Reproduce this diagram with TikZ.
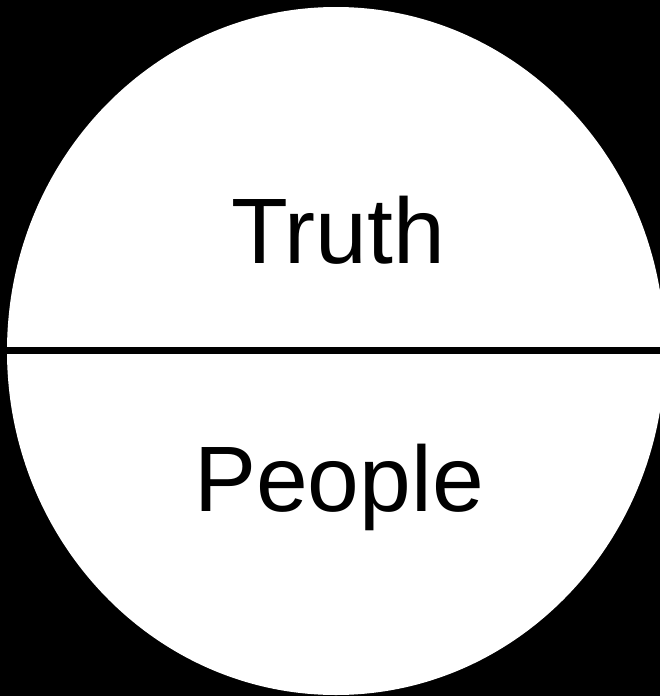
\documentclass[tikz,border=0pt]{standalone}
\usepackage{fontspec}
\setmainfont{Liberation Sans}
\usetikzlibrary{shapes.geometric}
\begin{document}
\begin{tikzpicture}[x=1pt,y=-1pt,
  disc/.style={ellipse,fill=white,draw=none,inner sep=0pt,minimum width=658pt,minimum height=688pt},
  label/.style={anchor=base,inner sep=0pt,font=\fontsize{93}{100}\selectfont,text=black},
  divider/.style={draw=black,line width=7pt}]
\fill[black] (0,0) rectangle (660,696);
\useasboundingbox (0,0) rectangle (660,696);
\node[disc] (disc) at (336,351) {};
\coordinate (rightend) at (662,350.5);
\coordinate (leftend) at (6,350.5);
\draw[divider] (leftend) -- (rightend);
\node[label] (truth) at (338,263) {Truth};
\node[label] (people) at (339,511) {People};
\end{tikzpicture}
\end{document}
